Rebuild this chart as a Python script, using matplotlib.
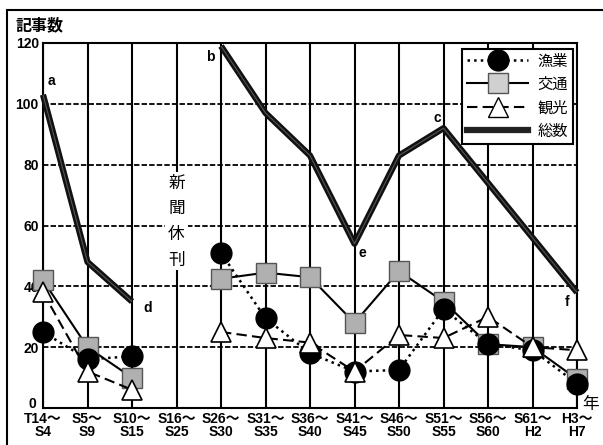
import numpy as np
import matplotlib
matplotlib.use("Agg")
import matplotlib.pyplot as plt
from matplotlib.lines import Line2D
from matplotlib.patches import Rectangle
from matplotlib.transforms import offset_copy

plt.rcParams['font.family'] = ['Liberation Sans', 'Noto Sans CJK JP', 'DejaVu Sans']

periods = ["T14～\nS4", "S5～\nS9", "S10～\nS15", "S16～\nS25", "S26～\nS30", "S31～\nS35",
           "S36～\nS40", "S41～\nS45", "S46～\nS50", "S51～\nS55", "S56～\nS60", "S61～\nH2", "H3～\nH7"]
nan = np.nan
fishery = [25, 16, 17, nan, 51, 29.5, 18, 12, 12.5, 32.5, 21, 19, 8]
transport = [42, 20, 10, nan, 42.5, 44.5, 43, 28, 45, 35, 21, 20, 9.5]
tourism = [38, 12, 6, nan, 25, 23, 21.5, 12, 24, 23, 30, 20, 19]
total = [103, 48, 35, nan, 119, 97, 83, 54, 83, 92, 74, 56, 38]
point_labels = ["a", "b", "c", "d", "e", "f"]
point_label_pos = [(0.2, 107.5), (3.75, 115.5), (8.85, 95.5), (2.35, 33), (7.17, 51), (11.78, 35)]

W, H = 603, 445
fig = plt.figure(figsize=(W / 100, H / 100), dpi=100)
# outer frame
fig.add_artist(Rectangle((7 / W, -0.1), 1.2, 1 - 10 / H + 0.1, transform=fig.transFigure,
                         fill=False, edgecolor='black', lw=1.5))
ax = fig.add_axes([43 / W, 1 - 408 / H, (577 - 43) / W, (408 - 43) / H])
x = np.arange(len(periods))
ax.set_xlim(0, len(periods) - 1)
ax.set_ylim(0, 120)

for xi in x:
    ax.axvline(xi, color='black', lw=1.5, zorder=1)
for yv in [20, 40, 60, 80, 100]:
    ax.axhline(yv, color='black', lw=1.3, ls=(0, (3, 1.2)), zorder=1)
for s in ax.spines.values():
    s.set_linewidth(1.5)

ax.plot(x, transport, '-', color='black', lw=1.5, marker='s', ms=14,
        mfc='#b0b0b0', mec='#555555', mew=1, zorder=3, clip_on=False, label='交通')
ax.plot(x, fishery, ':', color='black', lw=1.8, marker='o', ms=15,
        mfc='black', mec='black', zorder=4, clip_on=False, label='漁業')
ax.plot(x, tourism, '--', color='black', lw=1.5, dashes=(5, 2.5), marker='^', ms=15,
        mfc='white', mec='black', mew=1.2, zorder=5, clip_on=False, label='観光')
ax.plot(x, total, '-', color='#111111', lw=4.5, zorder=6, clip_on=False, solid_capstyle='butt')
ax.plot(x, total, '-', color='#555555', lw=0.8, zorder=7, clip_on=False, solid_capstyle='butt')

for lab, (px, py) in zip(point_labels, point_label_pos):
    ax.text(px, py, lab, fontsize=10, fontweight='bold', ha='center', va='center', zorder=8)

ax.text(3, 76.5, "新\n\n聞\n\n休\n\n刊", fontsize=12, ha='center', va='top', linespacing=0.82,
        bbox=dict(facecolor='white', edgecolor='none', pad=2), zorder=2)

ax.set_xticks(x)
ax.set_xticklabels(periods, fontsize=10, fontweight='bold', linespacing=0.85)
ax.set_yticks([0, 20, 40, 60, 80, 100, 120])
ax.set_yticklabels(['0', '20', '40', '60', '80', '100', '120'], fontsize=10, fontweight='bold')
ax.tick_params(length=0, pad=3)
# nudge the "0" label up a little, as in the reference
zero = ax.get_yticklabels()[0]
zero.set_transform(offset_copy(zero.get_transform(), fig=fig, x=-3, y=5, units='dots'))

handles = [
    Line2D([], [], ls=':', color='black', lw=1.8, marker='o', ms=15, mfc='black', mec='black'),
    Line2D([], [], ls='-', color='black', lw=1.5, marker='s', ms=14, mfc='#d0d0d0', mec='#555555'),
    Line2D([], [], ls='--', color='black', lw=1.5, dashes=(5, 2.5), marker='^', ms=15, mfc='white', mec='black'),
    Line2D([], [], ls='-', color='#222222', lw=4.5),
]
leg = ax.legend(handles, ['漁業', '交通', '観光', '総数'], loc='upper left',
                bbox_to_anchor=(462 / W, 1 - 49 / H), bbox_transform=fig.transFigure,
                fontsize=11, frameon=True, fancybox=False, framealpha=1, edgecolor='black',
                handlelength=4.0, handletextpad=0.6, borderpad=0.35, labelspacing=0.6,
                borderaxespad=0)
leg.get_frame().set_linewidth(1.5)
leg.set_zorder(10)

fig.text(15 / W, 1 - 25 / H, "記事数", fontsize=11.5, fontweight='bold', va='center', ha='left')
fig.text(591 / W, 1 - 404 / H, "年", fontsize=12, va='center', ha='center')

fig.savefig("out.png", dpi=100)
